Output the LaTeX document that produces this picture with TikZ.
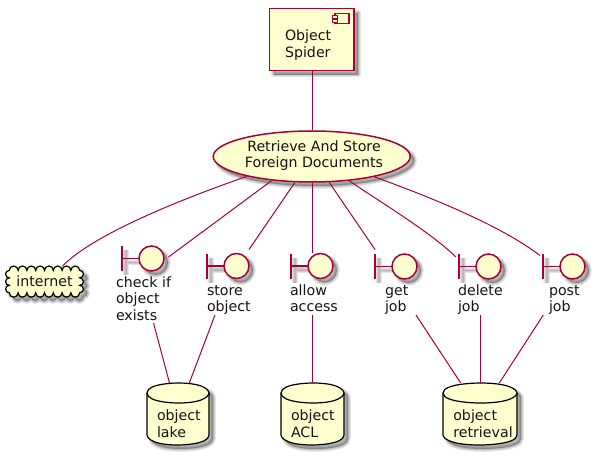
\documentclass[tikz,border=0pt]{standalone}
\usepackage{fontspec}
\setmainfont{DejaVu Sans}
\usetikzlibrary{shapes.geometric}
\definecolor{umlred}{HTML}{A80036}
\definecolor{umlfill}{HTML}{FEFECE}
\tikzset{
  umlshape/.style={draw=umlred,fill=umlfill,line width=1.5pt},
  blackshape/.style={draw=black,fill=umlfill,line width=1.2pt},
  conn/.style={draw=umlred,line width=1pt},
  txt/.style={inner sep=0pt,outer sep=0pt,align=left,anchor=north west,text=black!92,font=\fontsize{14.2}{16.3}\selectfont},
  boxarea/.style={inner sep=0pt,outer sep=0pt},
}
\newcommand{\shad}[1]{\foreach \w in {5.5,3.5,1.5}{\path[shift={(4,4)},fill=black,draw=black,fill opacity=.1,draw opacity=.1,line width=\w pt,line join=round] #1;}}
\newcommand{\shadline}[1]{\foreach \w in {5.5,3.5,1.5}{\path[shift={(4,4)},draw=black,draw opacity=.1,line width=\w pt] #1;}}
% name, bar x, centre y, label x, label y, label
\newcommand{\bnd}[6]{%
  \pgfmathsetmacro{\cx}{#2+29.5}\pgfmathsetmacro{\ct}{#3-12.5}\pgfmathsetmacro{\cb}{#3+12.5}\pgfmathsetmacro{\cm}{#2+17}%
  \shadline{(#2,\ct)--(#2,\cb) (#2,#3)--(\cm,#3)}
  \shad{(\cx,#3) circle[radius=12.5pt]}
  \draw[umlred,line width=1.5pt] (#2,\ct)--(#2,\cb) (#2,#3)--(\cm,#3);
  \node[umlshape,circle,inner sep=0pt,minimum size=25pt] (#1) at (\cx,#3) {};
  \node[txt] (#1text) at (#4,#5) {\strut #6};
}
% name, left, middle, right, label x, label
\newcommand{\dbase}[6]{%
  \def\dbbody{(#2,393) .. controls (#2,383) and (#3,383) .. (#3,383) .. controls (#4,383) and (#4,393) .. (#4,393) -- (#4,435) .. controls (#4,445) and (#3,445) .. (#3,445) .. controls (#2,445) and (#2,435) .. (#2,435) -- cycle}%
  \shad{\dbbody}
  \path[blackshape] \dbbody;
  \draw[black,line width=1.2pt] (#2,393) .. controls (#2,403) and (#3,403) .. (#3,403) .. controls (#4,403) and (#4,393) .. (#4,393);
  \node[boxarea,minimum height=62pt] (#1) at (#3,414) {};
  \node[txt] (#1text) at (#5,409.3) {\strut #6};
}
\def\tb{arc[start angle=180,end angle=0,radius=4.4pt]}
\def\rb{arc[start angle=90,end angle=-90,radius=3.73pt]}
\def\bb{arc[start angle=0,end angle=-180,radius=4.4pt]}
\def\lb{arc[start angle=270,end angle=90,radius=3.73pt]}
\def\cloudpath{(9.3,270.4) \tb \tb \tb \tb \tb \tb \tb \tb \rb \rb \rb \bb \bb \bb \bb \bb \bb \bb \bb \lb \lb \lb -- cycle}
\begin{document}
\begin{tikzpicture}[x=1pt,y=-1pt]
\useasboundingbox (0,0) rectangle (594,455);
% component
\shad{(269.5,8.5) rectangle (354,70.5)}
\node[umlshape,inner sep=0pt,minimum width=84.5pt,minimum height=62pt] (spider) at (311.75,39.5) {};
\draw[umlred,line width=1.2pt,fill=umlfill] (335,13.5) rectangle (349,23.5);
\draw[umlred,line width=1pt,fill=umlfill] (332,15) rectangle (337,18);
\draw[umlred,line width=1pt,fill=umlfill] (332,19.5) rectangle (337,22.5);
\node[txt] (spidertext) at (285,29.3) {\strut Object\\Spider};
% use case
\shad{(311.75,156.5) ellipse[x radius=98.5pt,y radius=25.5pt]}
\node[umlshape,ellipse,inner sep=0pt,minimum width=197pt,minimum height=51pt] (uc) at (311.75,156.5) {};
\node[boxarea,align=center,text=black!92,font=\fontsize{14.2}{16.3}\selectfont] (uctext) at (314,155.5) {Retrieve And Store\\Foreign Documents};
% cloud
\shad{\cloudpath}
\path[blackshape] \cloudpath;
\node[boxarea,minimum width=79pt,minimum height=31pt,text=black!92,font=\fontsize{14.2}{16.3}\selectfont] (inet) at (44.5,281.5) {internet};
% boundaries
\bnd{chk}{122}{258.5}{116}{276}{check if\\object\\exists}
\bnd{store}{207}{266}{207}{284}{store\\object}
\bnd{allow}{291}{266}{290}{284}{allow\\access}
\bnd{getj}{375}{266.5}{385}{284}{get\\job}
\bnd{delj}{459}{266.5}{458}{284}{delete\\job}
\bnd{postj}{543}{266.5}{549}{284}{post\\job}
% databases
\dbase{lake}{147}{178}{209}{157}{object\\lake}
\dbase{acl}{281}{312.5}{344}{291}{object\\ACL}
\dbase{ret}{443}{480}{517}{453.3}{object\\retrieval}
% connectors
\draw[conn] ([xshift=.5pt]spider.south) -- ([xshift=.5pt]uc.north);
\draw[conn] (uc.197.6) .. controls (185,198) and (95,233) .. ([xshift=18pt]inet.north);
\draw[conn] (uc.211.8) -- ([shift={(17,-1.5)}]chk.center);
\draw[conn] (uc.237.1) -- ([shift={(12.5,-16.5)}]store.center);
\draw[conn] ([xshift=.5pt]uc.south) -- ([shift={(-8.25,-13)}]allow.center);
\draw[conn] (uc.304.5) -- ([shift={(-29.5,-17)}]getj.center);
\draw[conn] (uc.327.5) .. controls (385,205) and (430,232) .. ([shift={(-32.5,-9.5)}]delj.center);
\draw[conn] (uc.342.9) .. controls (430,197) and (500,225) .. ([shift={(-32.5,-11)}]postj.center);
\draw[conn] ([shift={(37.5,47)}]chktext.north west) -- ([xshift=-8.5pt]lake.north);
\draw[conn] ([shift={(8,31)}]storetext.north west) -- ([xshift=11.3pt]lake.north);
\draw[conn] ([shift={(22.5,31)}]allowtext.north west) -- (acl.north);
\draw[conn] ([shift={(31,31)}]getjtext.north west) -- ([xshift=-19.3pt]ret.north);
\draw[conn] ([shift={(22,31)}]deljtext.north west) -- (ret.north);
\draw[conn] ([shift={(-5.7,31)}]postjtext.north west) -- ([xshift=19.3pt]ret.north);
\end{tikzpicture}
\end{document}
